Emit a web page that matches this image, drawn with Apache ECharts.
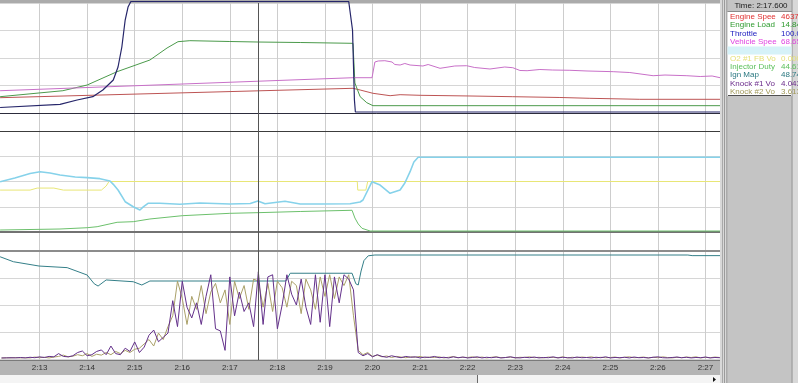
<!DOCTYPE html>
<html><head><meta charset="utf-8">
<script src="https://cdn.jsdelivr.net/npm/echarts@6/dist/echarts.min.js"></script>
<style>html,body{margin:0;padding:0;background:#fff;}#c{width:798px;height:383px;}</style>
</head><body><div id="c"></div>
<script>
// ---- time axis (seconds) ----
const tMin = 132, tMax = 148, tickStep = 1;
const cursorTime = 137.6;

// ---- panel 1 ----
const engineSpeed = [[132.17,3199],[137.6,4637],[139.59,5165],[139.74,4809],[140.01,4119],[140.37,3617],[140.58,3826],[141.0,3701],[142.05,3555],[142.95,3408],[143.94,3241],[144.57,3074],[145.62,2865],[147.43,2865]];
const engineLoad = [[132.17,3.41],[133.49,4.66],[134.0,5.85],[134.63,8.64],[135.32,11.08],[135.68,13.59],[135.91,14.91],[136.16,15.12],[137.0,14.95],[137.6,14.84],[138.48,14.74],[139.59,14.57],[139.63,6.27],[139.74,3.41],[139.88,2.15],[140.01,1.53],[147.43,1.53]];
const throttle = [[132.17,4.07],[133.43,6.97],[133.79,10.86],[134.12,13.85],[134.33,19.91],[134.55,28.96],[134.65,40.72],[134.73,58.82],[134.80,83.26],[134.86,95.02],[134.92,100],[139.50,100],[139.58,74.2],[139.62,10.9],[139.64,0],[147.43,0]];
const vehicleSpeed = [[132.17,48.1],[137.6,68.65],[139.59,76.2],[139.99,76.2],[140.05,110.1],[140.12,112.3],[140.26,112.9],[140.41,110.1],[140.47,104.7],[140.58,103.6],[140.68,106.9],[140.79,103.6],[141.06,101.5],[141.17,104.7],[141.42,96.5],[141.73,101.5],[141.98,102.1],[142.15,98.2],[142.47,95.0],[142.78,99.3],[142.95,97.8],[143.1,91.8],[143.25,91.3],[143.52,93.9],[143.79,92.8],[144.15,92.2],[144.51,90.7],[145.06,89.2],[145.41,87.4],[145.9,80.5],[146.15,82.0],[146.61,80.5],[146.89,78.8],[147.14,79.9],[147.31,76.2],[147.43,76.2]];

// ---- panel 2 ----
const afr = [[132.17,14.98],[132.48,15.35],[132.8,15.79],[133.01,15.97],[133.22,15.84],[133.43,15.64],[133.75,15.45],[134.0,15.38],[134.27,15.28],[134.48,15.05],[134.55,14.72],[134.65,14.16],[134.8,13.0],[134.97,12.5],[135.11,12.18],[135.18,12.48],[135.28,12.84],[135.53,12.84],[135.95,12.74],[136.37,12.87],[137.0,12.77],[137.43,12.82],[137.59,13.07],[137.74,12.8],[138.16,13.04],[138.48,12.77],[138.9,12.77],[139.53,12.8],[139.74,12.97],[139.8,13.17],[139.99,14.98],[140.16,14.65],[140.37,13.83],[140.58,14.16],[140.68,14.85],[140.79,15.97],[140.87,16.93],[140.96,17.4],[147.43,17.4]];
const o2Fb = [[132.17,-0.17],[132.8,-0.17],[132.95,-0.13],[133.3,-0.13],[133.5,-0.17],[134.3,-0.17],[134.4,-0.09],[134.46,0],[139.68,0],[139.69,-0.17],[139.86,-0.17],[139.9,0],[147.43,0]];
const injDuty = [[132.17,4.6],[133.43,6.9],[134.0,9.9],[134.21,12.2],[134.63,22.4],[134.97,23.8],[135.32,30.0],[136.0,37.6],[137.0,43.1],[137.6,44.61],[138.48,47.3],[139.57,50.1],[139.63,32.3],[139.7,18.5],[139.78,8.5],[139.95,2.3],[147.43,2.3]];

// ---- panel 3 ----
const ignMap = [[132.17,63.9],[132.45,60.8],[132.99,58.1],[133.58,57.1],[134.0,52.5],[134.15,47.0],[134.23,45.6],[134.4,49.4],[134.97,48.3],[135.15,46.25],[135.32,48.75],[137.6,48.74],[138.18,48.75],[138.27,53.6],[139.57,53.6],[139.65,47.0],[139.7,46.25],[139.76,55.0],[139.82,61.5],[139.91,64.5],[140.05,65.0],[146.63,65.0],[146.72,64.6],[147.43,64.6]];
const knockStart = 132.2, knockStep = 0.1;
const knock1 = [0.05,0.05,0.06,0.05,0.07,0.05,0.08,0.06,0.1,0.07,
0.12,0.1,0.25,0.12,0.1,0.15,0.3,0.37,0.15,0.2,
0.35,0.42,0.2,0.6,0.25,0.2,0.5,0.35,0.79,0.3,
0.55,1.1,1.34,0.8,1.0,1.2,2.7,1.5,3.6,2.4,
1.9,2.6,1.6,2.9,3.9,1.4,1.3,0.4,3.8,2.0,
3.1,2.2,2.6,1.5,4.04,1.6,3.8,3.9,1.4,2.5,
3.9,3.0,2.5,3.7,2.4,1.6,3.9,1.7,3.9,1.5,
3.8,2.6,3.9,3.7,3.2,0.3,0.15,0.25,0.1,0.2,
0.12,0.08,0.15,0.1,0.06,0.12,0.08,0.1,0.05,0.09,
0.07,0.12,0.06,0.08,0.05,0.1,0.06,0.09,0.05,0.07,
0.1,0.05,0.08,0.06,0.09,0.05,0.07,0.1,0.06,0.05,
0.08,0.06,0.09,0.05,0.07,0.06,0.1,0.05,0.08,0.06,
0.05,0.09,0.06,0.07,0.05,0.08,0.06,0.1,0.05,0.07,
0.06,0.08,0.05,0.09,0.06,0.07,0.05,0.08,0.1,0.06,
0.05,0.07,0.09,0.06,0.08,0.05,0.07,0.06,0.09,0.05,
0.07,0.06,0.08];
const knock2 = [0.04,0.06,0.05,0.07,0.05,0.06,0.05,0.09,0.06,0.08,
0.05,0.09,0.12,0.18,0.1,0.13,0.2,0.15,0.25,0.12,
0.22,0.18,0.3,0.2,0.35,0.25,0.4,0.3,0.45,0.5,
0.7,0.9,0.6,1.2,0.9,1.5,2.0,3.6,2.8,1.6,
2.9,2.3,3.4,2.1,3.1,3.5,2.6,3.2,1.6,3.6,
2.8,3.4,2.3,3.7,3.61,2.4,3.5,2.2,3.6,3.3,
2.4,3.6,3.4,2.1,3.7,3.2,2.3,3.8,2.9,3.9,
2.8,3.8,3.4,3.9,2.0,0.4,0.2,0.3,0.12,0.18,
0.1,0.14,0.07,0.12,0.09,0.06,0.1,0.08,0.12,0.06,
0.09,0.07,0.1,0.05,0.08,0.11,0.06,0.08,0.07,0.1,
0.06,0.09,0.05,0.08,0.1,0.06,0.07,0.09,0.05,0.08,
0.07,0.1,0.06,0.08,0.05,0.09,0.07,0.06,0.1,0.05,
0.08,0.06,0.09,0.07,0.1,0.05,0.08,0.06,0.07,0.09,
0.05,0.08,0.1,0.06,0.07,0.09,0.05,0.08,0.06,0.1,
0.07,0.05,0.08,0.06,0.09,0.07,0.1,0.05,0.08,0.06,
0.09,0.07,0.05];

// ---- legend panel texts ----
const legendNames  = ['Engine Spee','Engine Load','Throttle','Vehicle Spee','','O2 #1 FB Vo','Injector Duty','Ign Map','Knock #1 Vo','Knock #2 Vo'];
const legendValues = ['4637','14.84','100.00','68.65','','0.000','44.61','48.74','4.043','3.613'];

// ---- styles ----
const legendColors = ['#e03030','#2e9a2e','#2020c0','#e040e0','#9adcec','#e4e07a','#5cc05c','#2a7880','#6a2a8a','#a09858'];
const FONT = 'Liberation Sans, Arial, sans-serif';

const fmtTick = v => { const m = Math.floor(v/60); const s = Math.round(v - m*60); return m + ':' + (s<10?'0':'') + s; };
const knockPts = arr => arr.map((v,i) => [+(knockStart + i*knockStep).toFixed(2), v]);

const GL = -8, GW = 761;
const grids = [
  {left:GL, width:GW, top:3, height:357},
  {left:GL, width:GW, top:3, height:110},
  {left:GL, width:GW, top:131, height:101},
  {left:GL, width:GW, top:251, height:108},
  {left:GL, width:GW, top:360, height:15, show:true, backgroundColor:'#b4b4b4', borderWidth:0}
].map(g => Object.assign({containLabel:false, outerBoundsMode:'none'}, g));

const xBase = {type:'value', min:tMin, max:tMax, interval:tickStep, axisTick:{show:false}, axisLabel:{show:false}, splitLine:{show:false}, axisLine:{show:false}};
const xAxes = [
  Object.assign({}, xBase, {gridIndex:0, splitLine:{show:true, lineStyle:{color:'#cdcdcd', width:1}}}),
  Object.assign({}, xBase, {gridIndex:1, position:'bottom', axisLine:{show:true, onZero:false, lineStyle:{color:'#2c2c3c', width:1}}}),
  Object.assign({}, xBase, {gridIndex:2, position:'top', axisLine:{show:true, onZero:false, lineStyle:{color:'#3c3c3c', width:1}}}),
  Object.assign({}, xBase, {gridIndex:2, position:'bottom', axisLine:{show:true, onZero:false, lineStyle:{color:'#727272', width:2}}}),
  Object.assign({}, xBase, {gridIndex:3, position:'top', axisLine:{show:true, onZero:false, lineStyle:{color:'#8c8c8c', width:2}}}),
  Object.assign({}, xBase, {gridIndex:4, position:'top', axisLine:{show:true, onZero:false, lineStyle:{color:'#7a7a7a', width:1}},
    axisLabel:{show:true, inside:true, margin:4, fontSize:8, fontFamily:FONT, color:'#333', verticalAlign:'top',
      showMinLabel:false, showMaxLabel:false, formatter: v => (v<=tMin||v>=tMax) ? '' : fmtTick(v)}})
];

const hiddenY = (grid, min, max) => ({type:'value', gridIndex:grid, min, max, show:false});
const splitY = grid => ({type:'value', gridIndex:grid, min:0, max:4, interval:1, axisLine:{show:false}, axisTick:{show:false}, axisLabel:{show:false}, splitLine:{show:true, lineStyle:{color:'#d6d6d6', width:1}}});
const yAxes = [
  hiddenY(0,0,1), splitY(1), hiddenY(1,0,23000), hiddenY(1,0,23.0), hiddenY(1,-0.905,98.65), hiddenY(1,0,237.5),
  splitY(2), hiddenY(2,10,20), hiddenY(2,-1,1), hiddenY(2,0,233),
  splitY(3), hiddenY(3,0,67.5), hiddenY(3,0,5), hiddenY(4,0,1)
];

const mkLine = (name, data, xi, yi, color, width, extra) => Object.assign({
  type:'line', name, data, xAxisIndex:xi, yAxisIndex:yi, symbol:'none', showSymbol:false,
  silent:true, animation:false, lineStyle:{color, width}, itemStyle:{color}
}, extra || {});

const series = [
  mkLine('Engine Speed', engineSpeed, 1, 2, '#bd5454', 1),
  mkLine('Engine Load', engineLoad, 1, 3, '#4b9a4b', 1),
  mkLine('Vehicle Speed', vehicleSpeed, 1, 5, '#c870c8', 1),
  mkLine('Throttle', throttle, 1, 4, '#26266a', 1.2, {clip:false}),
  mkLine('O2 #1 FB Volt', o2Fb, 2, 8, '#e8e676', 1),
  mkLine('A/F', afr, 2, 7, '#86d2ea', 1.6),
  mkLine('Injector Duty', injDuty, 2, 9, '#6cc06c', 1),
  mkLine('Ign Map', ignMap, 4, 11, '#347f88', 1),
  mkLine('Knock #2 Volt', knockPts(knock2), 4, 12, '#aaa068', 1),
  mkLine('Knock #1 Volt', knockPts(knock1), 4, 12, '#63308a', 1),
  mkLine('cursor', [[tMin,-1],[tMax,-1]], 0, 0, 'rgba(0,0,0,0)', 1, {
    markLine:{silent:true, symbol:['none','none'], label:{show:false}, animation:false,
      lineStyle:{color:'#555', width:1, type:'solid'}, data:[{xAxis:cursorTime}]}})
];

const graphics = [
  {type:'rect', z:0, shape:{x:0,y:0,width:722,height:3}, style:{fill:'#ababab'}},
  {type:'rect', z:0, shape:{x:0,y:375,width:720,height:8}, style:{fill:'#f4f4f4'}},
  {type:'rect', z:0, shape:{x:200,y:375,width:277,height:8}, style:{fill:'#e6e6e6'}},
  {type:'line', z:0, shape:{x1:477.5,y1:375,x2:477.5,y2:383}, style:{stroke:'#6a6a6a', lineWidth:1}},
  {type:'polygon', z:0, shape:{points:[[713,377],[713,382],[716,379.5]]}, style:{fill:'#111'}},
  {type:'rect', z:100, shape:{x:720,y:0,width:78,height:383}, style:{fill:'#d8d8d8'}},
  {type:'line', z:101, shape:{x1:722.5,y1:0,x2:722.5,y2:383}, style:{stroke:'#a8a8a8', lineWidth:1}},
  {type:'line', z:101, shape:{x1:724.5,y1:0,x2:724.5,y2:383}, style:{stroke:'#9a9a9a', lineWidth:1}},
  {type:'line', z:101, shape:{x1:727,y1:0,x2:727,y2:383}, style:{stroke:'#7c7c7c', lineWidth:1}},
  {type:'rect', z:101, shape:{x:727.5,y:0,width:64,height:383}, style:{fill:'#c4c4c4'}},
  {type:'line', z:101, shape:{x1:792,y1:0,x2:792,y2:383}, style:{stroke:'#8c8c8c', lineWidth:1}},
  {type:'rect', z:102, shape:{x:727.5,y:12,width:64,height:84}, style:{fill:'#ffffff'}},
  {type:'line', z:102, shape:{x1:727.5,y1:11.5,x2:792,y2:11.5}, style:{stroke:'#8a8a8a', lineWidth:1}},
  {type:'rect', z:102, shape:{x:727.5,y:46.5,width:64,height:8}, style:{fill:'#d6f2f8'}},
  {type:'line', z:103, shape:{x1:728,y1:95.5,x2:791,y2:95.5}, style:{stroke:'#505050', lineWidth:1}},
  {type:'text', z:103, style:{text:'Time: ' + Math.floor(cursorTime/60) + ':' + (cursorTime%60).toFixed(3),
    x:761, y:6, align:'center', verticalAlign:'middle', fill:'#1a1a1a', font:'8px ' + FONT}}
];
legendNames.forEach((n, i) => {
  const y = 16.7 + i*8.35;
  if (n) graphics.push({type:'text', z:104, style:{text:n, x:730, y, align:'left', verticalAlign:'middle', fill:legendColors[i], font:'8px ' + FONT}});
  if (legendValues[i]) graphics.push({type:'text', z:104, style:{text:legendValues[i], x:781, y, align:'left', verticalAlign:'middle', fill:legendColors[i], font:'8px ' + FONT}});
});

const chart = echarts.init(document.getElementById('c'));
chart.setOption({
  animation:false,
  backgroundColor:'#ffffff',
  grid: grids,
  xAxis: xAxes,
  yAxis: yAxes,
  series: series,
  graphic: {elements: graphics}
});
</script>
</body></html>
